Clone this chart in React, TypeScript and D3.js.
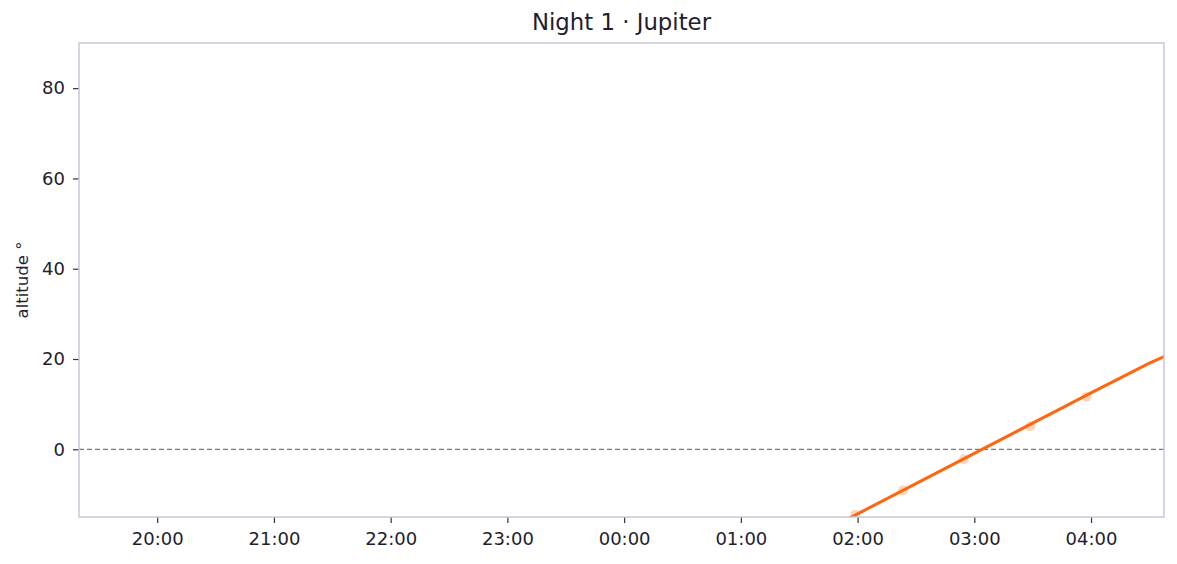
import { useEffect, useRef } from 'react';
import * as d3 from 'd3';

// hours after 18:00 of the night (so 24 = 00:00, 28 = 04:00)
const lineHours = [25.5, 26, 26.5, 27, 27.5, 28, 28.5, 28.7];
const lineAltitude = [-21, -14.3, -7.6, -0.9, 5.8, 12.5, 19.1, 21.4];

const markerHours = [25.98, 26.39, 26.91, 27.48, 27.96];
const markerAltitude = [-14.5, -9.1, -2.2, 5.1, 11.6];

const tickHours = [20, 21, 22, 23, 24, 25, 26, 27, 28];
const yTicks = [0, 20, 40, 60, 80];

const title = 'Night 1 · Jupiter';
const yLabel = 'altitude °';

const App = () => {
  const svgRef = useRef(null);

  useEffect(() => {
    const svg = d3.select(svgRef.current);
    svg.selectAll('*').remove();

    const width = 1177;
    const height = 564;
    const margin = { top: 43, right: 13, bottom: 47, left: 79 };
    const font = '"DejaVu Sans", sans-serif';
    const textColor = '#1e1e2e';
    const frameColor = '#c8c8d8';

    const x = d3
      .scaleLinear()
      .domain([19.33, 28.625])
      .range([margin.left, width - margin.right]);
    const y = d3
      .scaleLinear()
      .domain([-15, 90])
      .range([height - margin.bottom, margin.top]);

    svg
      .append('defs')
      .append('clipPath')
      .attr('id', 'plot-clip')
      .append('rect')
      .attr('x', margin.left)
      .attr('y', margin.top)
      .attr('width', width - margin.left - margin.right)
      .attr('height', height - margin.top - margin.bottom);

    const fmt = (h: number) => `${String(Math.round(h) % 24).padStart(2, '0')}:00`;

    // x axis
    const xAxis = svg
      .append('g')
      .attr('transform', `translate(0,${height - margin.bottom})`)
      .call(
        d3
          .axisBottom(x)
          .tickValues(tickHours)
          .tickFormat((d) => fmt(d as number))
          .tickSize(6)
          .tickPadding(9)
      );
    xAxis.select('.domain').remove();
    xAxis.selectAll('line').attr('stroke', '#333344').attr('stroke-width', 1.2);
    xAxis
      .selectAll('text')
      .attr('fill', textColor)
      .style('font-size', '18px')
      .style('font-family', font);

    // y axis
    const yAxis = svg
      .append('g')
      .attr('transform', `translate(${margin.left},0)`)
      .call(d3.axisLeft(y).tickValues(yTicks).tickSize(6).tickPadding(8));
    yAxis.select('.domain').remove();
    yAxis.selectAll('line').attr('stroke', '#333344').attr('stroke-width', 1.2);
    yAxis
      .selectAll('text')
      .attr('fill', textColor)
      .style('font-size', '18px')
      .style('font-family', font);

    const plot = svg.append('g').attr('clip-path', 'url(#plot-clip)');

    // horizon
    plot
      .append('line')
      .attr('x1', margin.left)
      .attr('x2', width - margin.right)
      .attr('y1', y(0))
      .attr('y2', y(0))
      .attr('stroke', '#7a7a92')
      .attr('stroke-width', 1.3)
      .attr('stroke-dasharray', '5,3');

    // sampled positions
    plot
      .selectAll('circle')
      .data(markerHours.map((h, i) => [h, markerAltitude[i]]))
      .enter()
      .append('circle')
      .attr('cx', (d) => x(d[0]))
      .attr('cy', (d) => y(d[1]))
      .attr('r', 5)
      .attr('fill', '#ff9955')
      .attr('opacity', 0.4);

    const line = d3
      .line<number>()
      .x((d) => x(d))
      .y((_, i) => y(lineAltitude[i]));

    plot
      .append('path')
      .datum(lineHours)
      .attr('d', line)
      .attr('fill', 'none')
      .attr('stroke', '#ff6611')
      .attr('stroke-width', 3);

    // frame
    svg
      .append('rect')
      .attr('x', margin.left)
      .attr('y', margin.top)
      .attr('width', width - margin.left - margin.right)
      .attr('height', height - margin.top - margin.bottom)
      .attr('fill', 'none')
      .attr('stroke', frameColor)
      .attr('stroke-width', 1.5);

    svg
      .append('text')
      .attr('x', (margin.left + width - margin.right) / 2)
      .attr('y', 30)
      .attr('text-anchor', 'middle')
      .attr('fill', textColor)
      .style('font-size', '22.8px')
      .style('font-family', font)
      .text(title);

    svg
      .append('text')
      .attr('transform', `translate(28,${(margin.top + height - margin.bottom) / 2}) rotate(-90)`)
      .attr('text-anchor', 'middle')
      .attr('fill', textColor)
      .style('font-size', '16.5px')
      .style('font-family', font)
      .text(yLabel);
  }, []);

  return (
    <svg
      ref={svgRef}
      width={1177}
      height={564}
      style={{ position: 'absolute', left: 0, top: 0, background: '#fff' }}
    ></svg>
  );
};

export default App;
